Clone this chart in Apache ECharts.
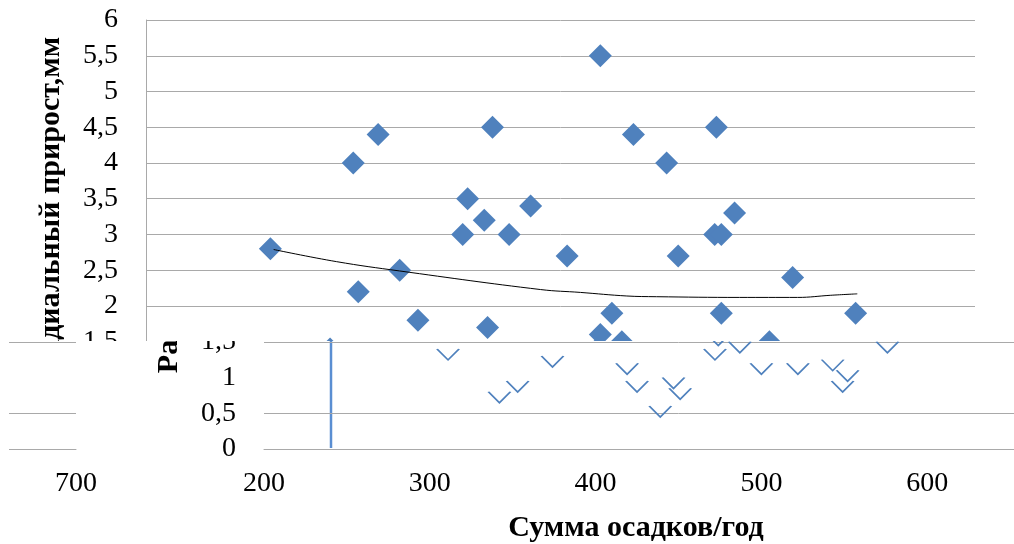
<!DOCTYPE html>
<html>
<head>
<meta charset="utf-8">
<script src="https://cdn.jsdelivr.net/npm/echarts@6/dist/echarts.min.js"></script>
<style>
html,body{margin:0;padding:0;background:#fff}
#stage{position:relative;width:1014px;height:544px;overflow:hidden;background:#fff}
.clip{position:absolute;overflow:hidden}
.chart{position:absolute;width:1014px;height:544px}
</style>
</head>
<body>
<div id="stage">
  <div class="clip" style="left:0;top:0;width:1014px;height:341px"><div id="cTop" class="chart" style="left:0;top:0"></div></div>
  <div class="clip" style="left:118px;top:341px;width:896px;height:203px"><div id="cLow" class="chart" style="left:0;top:-341px"></div></div>
  <div class="clip" style="left:9px;top:341px;width:109px;height:203px"><div id="cWrap" class="chart" style="left:-908px;top:-341px"></div></div>
</div>
<script>
// Data
const precip = [275, 325, 340, 328, 353, 364, 391, 394, 404, 406, 409, 419, 432, 454, 474, 474, 487, 481, 494, 514, 521, 543, 547, 544, 555, 547, 576, 590, 628,
                311, 342, 353, 374, 419, 425, 447, 451, 472, 500, 522, 543, 552, 549, 439];
const growth = [2.8, 4.0, 4.4, 2.2, 2.5, 1.8, 3.0, 3.5, 3.2, 1.7, 4.5, 3.0, 3.4, 2.7, 5.5, 1.6, 1.5, 1.9, 4.4, 4.0, 2.7, 3.0, 3.0, 4.5, 3.3, 1.9, 1.5, 2.4, 1.9,
                1.4, 0.8, 0.95, 1.3, 1.2, 0.95, 1.0, 0.85, 1.4, 1.2, 1.2, 1.25, 1.1, 0.95, 0.6];
const trendPrecip = [277, 315, 353, 438, 462, 490, 508, 558, 593, 613, 629];
const trendGrowth = [2.79, 2.62, 2.49, 2.23, 2.19, 2.14, 2.13, 2.12, 2.12, 2.15, 2.17];
const xTitle = 'Сумма осадков/год';
const yTitle = 'Радиальный прирост,мм';

const BLUE = '#4F81BD';
const GRID = '#a9a9a9';
const FONT = "'Liberation Serif','Times New Roman',serif";

const points = precip.map((x, i) => [x, growth[i]]);
const trend = trendPrecip.map((x, i) => [x, trendGrowth[i]]);

function makeOption(lower) {
  const gridColors = [];
  for (let k = 0; k <= 12; k++) gridColors.push(k === 2 ? 'rgba(0,0,0,0)' : GRID);
  return {
    animation: false,
    backgroundColor: '#fff',
    grid: { left: 146, right: 39, top: 20, bottom: 95 },
    xAxis: {
      type: 'value', min: 200, max: 700, interval: 100,
      axisLine: { show: true, lineStyle: { color: GRID } },
      axisTick: { show: false },
      splitLine: { show: false },
      axisLabel: { color: '#000', fontFamily: FONT, fontSize: 28, margin: 21 }
    },
    yAxis: {
      type: 'value', min: 0, max: 6, interval: 0.5,
      axisLine: { show: !lower, lineStyle: { color: GRID } },
      axisTick: { show: false },
      splitLine: { show: true, lineStyle: { color: gridColors, width: 1 } },
      axisLabel: { color: '#000', fontFamily: FONT, fontSize: 28, margin: 28,
        formatter: v => String(v).replace('.', ',') }
    },
    graphic: [
      { type: 'text', x: 51, y: 205, rotation: Math.PI / 2,
        style: { text: yTitle, font: "bold 30px 'Liberation Serif'", fill: '#000',
                 textAlign: 'center', textVerticalAlign: 'middle' } },
      { type: 'text', x: 518, y: 528,
        style: { text: xTitle, font: "bold 30px 'Liberation Serif'", fill: '#000',
                 textAlign: 'center', textVerticalAlign: 'middle' } },
      { type: 'line', shape: { x1: 213, y1: 341, x2: 213, y2: 448 },
        style: { stroke: '#5a8ed2', lineWidth: 2.5 } }
    ],
    series: [
      {
        type: 'scatter', data: points,
        symbol: lower ? 'path://M0,0L11,11L22,0' : 'diamond',
        symbolSize: lower ? [22, 11] : 23,
        symbolOffset: lower ? [0, 5.5] : [0, 0],
        itemStyle: lower ? { color: 'rgba(0,0,0,0)', borderColor: BLUE, borderWidth: 1.5, opacity: 1 }
                         : { color: BLUE, opacity: 1 },
        z: 3
      },
      {
        type: 'line', data: trend, smooth: 0.4, symbol: 'none',
        lineStyle: { color: '#000', width: 1 }, z: 4
      }
    ]
  };
}

echarts.init(document.getElementById('cTop'), null, { renderer: 'canvas' }).setOption(makeOption(false));
echarts.init(document.getElementById('cLow'), null, { renderer: 'canvas' }).setOption(makeOption(true));
echarts.init(document.getElementById('cWrap'), null, { renderer: 'canvas' }).setOption(makeOption(true));
</script>
</body>
</html>
